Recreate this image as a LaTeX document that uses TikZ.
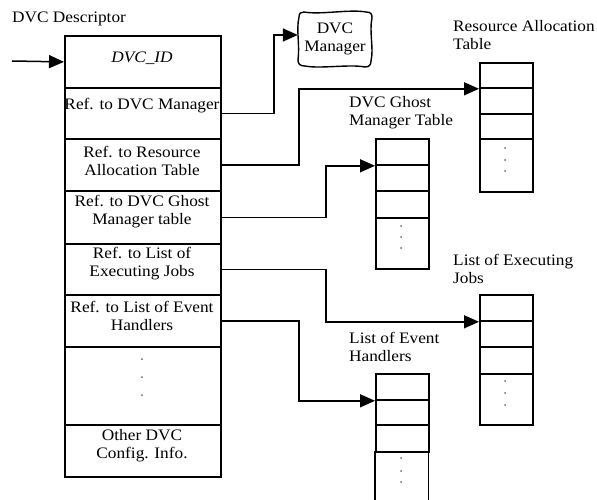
\documentclass[tikz,border=0pt]{standalone}
\usepackage{fontspec}
\setmainfont{Liberation Serif}[FakeStretch=1.08]
\usetikzlibrary{arrows.meta}
\begin{document}
\begin{tikzpicture}[x=1pt,y=-1pt,
  every node/.style={font=\fontsize{16}{18}\selectfont},
  cell/.style={draw,line width=1.8pt,minimum width=156pt,minimum height=#1,inner sep=0pt,anchor=north west},
  tcell/.style={draw,line width=1.8pt,minimum width=53pt,minimum height=#1,inner sep=0pt,anchor=north west},
  ecell/.style={minimum width=53pt,minimum height=#1,inner sep=0pt,anchor=north west},
  txt/.style={align=center,inner sep=0pt},
  lbl/.style={align=left,anchor=west,inner sep=0pt},
  conn/.style={line width=1.5pt,-{Triangle[length=15pt,width=13pt]}},
  dot/.style={fill=black!60,draw=none,circle,inner sep=0pt,minimum size=2pt}]
\useasboundingbox (0,0) rectangle (597,500);

% main descriptor box
\node[cell=52pt] (r1) at (64,35) {};
\node[cell=51pt] (r2) at (64,87) {};
\node[cell=52pt] (r3) at (64,138) {};
\node[cell=53pt] (r4) at (64,190) {};
\node[cell=51pt] (r5) at (64,243) {};
\node[cell=52pt] (r6) at (64,294) {};
\node[cell=78pt] (r7) at (64,346) {};
\node[cell=52pt] (r8) at (64,424) {};

\node[txt] (t1) at (142,58) {\textit{DVC\_ID}};
\node[txt] (t2) at (142,106) {Ref. to DVC Manager};
\node[txt] (t3) at (142,161) {Ref. to Resource\\Allocation Table};
\node[txt] (t4) at (142,212) {Ref. to DVC Ghost\\Manager table};
\node[txt] (t5) at (142,264) {Ref. to List of\\Executing Jobs};
\node[txt] (t6) at (142,316) {Ref. to List of Event\\Handlers};
\node[txt] (t8) at (142,446) {Other DVC\\Config. Info.};
\node[dot] (d71) at (142,359) {};
\node[dot] (d72) at (142,377) {};
\node[dot] (d73) at (142,395) {};

\node[lbl] (ldesc) at (12,19) {DVC Descriptor};

% DVC Manager
\node[txt,minimum width=74pt,minimum height=56pt] (mgr) at (335,39) {DVC\\Manager};
\draw[line width=1.4pt] (304,12) .. controls (320,15) and (350,9) .. (366,12)
  .. controls (371,12) and (372,14) .. (372,18)
  .. controls (369,32) and (374,48) .. (371,61)
  .. controls (371,65) and (369,67) .. (365,67)
  .. controls (350,64) and (320,69) .. (305,66)
  .. controls (300,66) and (298,64) .. (298,60)
  .. controls (300,45) and (296,30) .. (299,17)
  .. controls (299,13) and (301,12) .. (304,12) -- cycle;

% Resource Allocation Table
\node[lbl] (lrat) at (453,35) {Resource Allocation\\Table};
\node[tcell=25pt] (rata) at (479,62) {};
\node[tcell=26pt] (ratb) at (479,87) {};
\node[tcell=25pt] (ratc) at (479,113) {};
\node[tcell=53pt] (ratd) at (479,138) {};
\node[dot] at (505,148) {};
\node[dot] at (505,160) {};
\node[dot] at (505,171) {};

% DVC Ghost Manager Table
\node[lbl] (lgh) at (349,113) {DVC Ghost\\Manager Table};
\node[tcell=26pt] (gha) at (375,138) {};
\node[tcell=26pt] (ghb) at (375,164) {};
\node[tcell=27pt] (ghc) at (375,190) {};
\node[tcell=51pt] (ghd) at (375,217) {};
\node[dot] at (401,226) {};
\node[dot] at (401,237) {};
\node[dot] at (401,248) {};

% List of Executing Jobs
\node[lbl] (lex) at (453,269) {List of Executing\\Jobs};
\node[tcell=26pt] (exa) at (479,294) {};
\node[tcell=26pt] (exb) at (479,320) {};
\node[tcell=27pt] (exc) at (479,346) {};
\node[tcell=51pt] (exd) at (479,373) {};
\node[dot] at (505,381) {};
\node[dot] at (505,393) {};
\node[dot] at (505,405) {};

% List of Event Handlers
\node[lbl] (lev) at (349,347) {List of Event\\Handlers};
\node[tcell=26pt] (eva) at (375,373) {};
\node[tcell=25pt] (evb) at (375,399) {};
\node[tcell=27pt] (evc) at (375,424) {};
\node[ecell=49pt] (evd) at (375,451) {};
\draw[line width=1.8pt] (evd.north west) -- (evd.south west);
\draw[line width=1.8pt] (evd.north east) -- (evd.south east);
\node[dot] at (401,458) {};
\node[dot] at (401,471) {};
\node[dot] at (401,482) {};

% connectors
\coordinate (in) at (12,61);
\draw[conn] (in) -- (r1.west);
\draw[conn] (r2.east) -- ++(52,0) |- ([yshift=4pt]mgr.west);
\draw[conn] (r3.east) -- ++(77,0) |- (rata.south west);
\draw[conn] (r4.east) -- ++(104,0) |- (gha.south west);
\draw[conn] (r5.east) -- ++(104,0) |- (exa.south west);
\draw[conn] (r6.east) -- ++(77,0) |- (eva.south west);
\end{tikzpicture}
\end{document}
